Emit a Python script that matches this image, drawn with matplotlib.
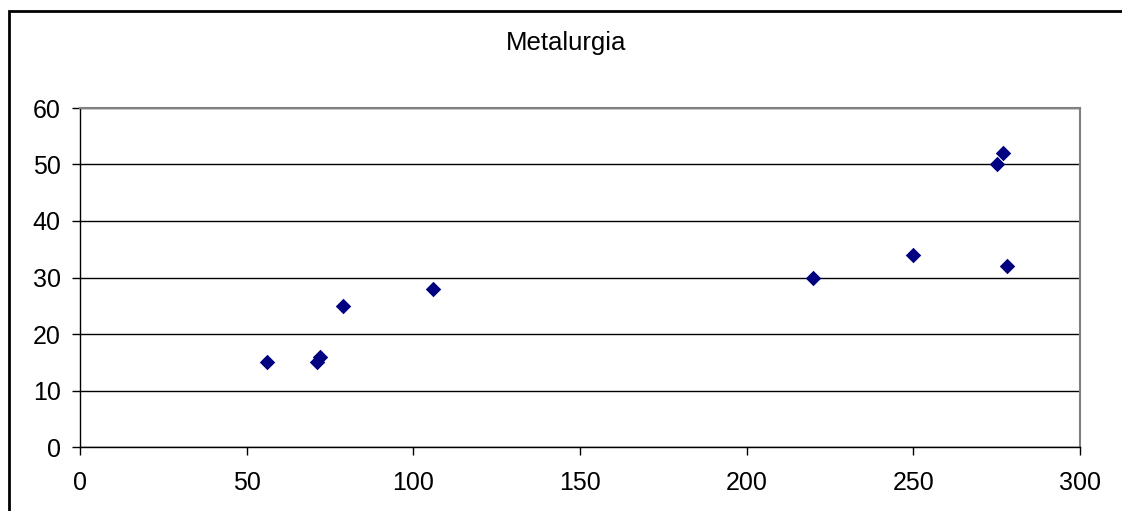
import matplotlib.pyplot as plt
from matplotlib.patches import Rectangle

x_vals = [56, 71, 72, 79, 106, 220, 250, 275, 277, 278]
y_vals = [15, 15, 16, 25, 28, 30, 34, 50, 52, 32]
x_ticks = [0, 50, 100, 150, 200, 250, 300]
y_ticks = [0, 10, 20, 30, 40, 50, 60]

plt.rcParams['font.family'] = ['Liberation Sans', 'DejaVu Sans']

fig = plt.figure(figsize=(11.22, 5.11), dpi=100)
ax = fig.add_axes([80/1122, 1 - 447/511, 1000/1122, 339/511])

ax.scatter(x_vals, y_vals, marker='D', s=62, color='#000080', zorder=3, linewidths=0)

ax.set_xlim(0, 300)
ax.set_ylim(0, 60)
ax.set_xticks(x_ticks)
ax.set_yticks(y_ticks)
ax.tick_params(labelsize=18, length=6, width=1, color='black', direction='out')
ax.tick_params(axis='x', pad=11)
ax.tick_params(axis='y', pad=8)
ax.grid(axis='y', color='black', linewidth=1)
ax.set_axisbelow(True)
for side in ['left', 'bottom']:
    ax.spines[side].set_color('black')
    ax.spines[side].set_linewidth(1)
for side in ['top', 'right']:
    ax.spines[side].set_color('#808080')
    ax.spines[side].set_linewidth(1.5)

fig.text(566/1122, 1 - 50/511, 'Metalurgia', ha='center', va='baseline', fontsize=18.5)

# outer chart frame (runs off the right and bottom edges)
fig.patches.append(Rectangle((9/1122, -0.1), 1.2, 1.1 - 11/511, transform=fig.transFigure,
                             fill=False, edgecolor='black', linewidth=2))

plt.savefig('out.png', dpi=100)
